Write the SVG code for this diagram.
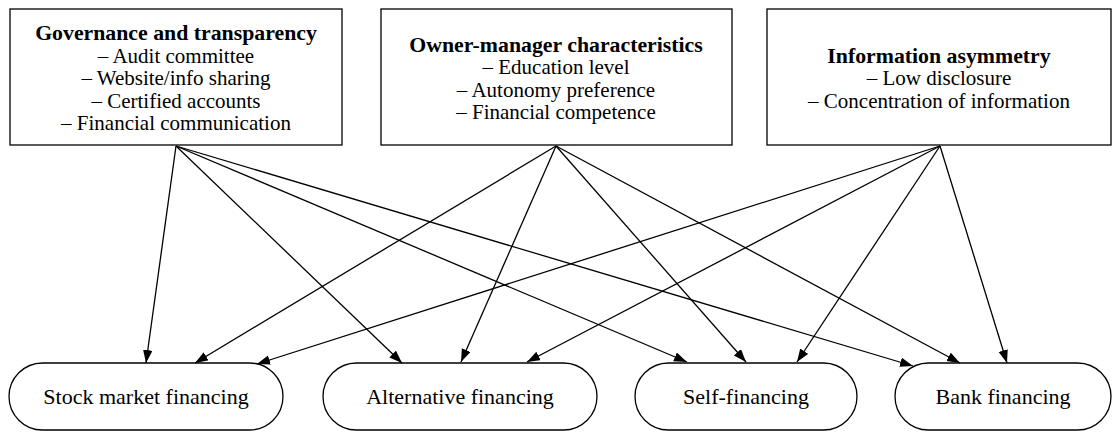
<svg xmlns="http://www.w3.org/2000/svg" width="1112" height="432" viewBox="0 0 1112 432">
  <style>
    .box { fill: #ffffff; stroke: #000000; stroke-width: 1.3; }
    .lbl { font-family: "Liberation Serif", "Times New Roman", serif; font-size: 21px; fill: #000000; text-anchor: middle; }
    .ttl { font-weight: bold; font-size: 21.8px; }
    .out { font-size: 22px; }
    .edge { stroke: #000000; stroke-width: 1.3; fill: none; marker-end: url(#arrow); }
  </style>
  <defs>
    <marker id="arrow" markerUnits="userSpaceOnUse" markerWidth="14" markerHeight="10" refX="13" refY="4.75" orient="auto">
      <path d="M0,0 L13,4.75 L0,9.5 Z" fill="#000000"/>
    </marker>
  </defs>
  <rect width="1112" height="432" fill="#ffffff"/>

  <!-- determinant boxes -->
  <g id="governance">
    <rect class="box" x="10" y="9" width="332" height="136"/>
    <text class="lbl ttl" x="176" y="40">Governance and transparency</text>
    <text class="lbl" x="176" y="62.5">– Audit committee</text>
    <text class="lbl" x="176" y="85">– Website/info sharing</text>
    <text class="lbl" x="176" y="107.5">– Certified accounts</text>
    <text class="lbl" x="176" y="130">– Financial communication</text>
  </g>
  <g id="owner_manager">
    <rect class="box" x="381" y="9" width="351" height="136"/>
    <text class="lbl ttl" x="556" y="51.5">Owner-manager characteristics</text>
    <text class="lbl" x="556" y="74">– Education level</text>
    <text class="lbl" x="556" y="96.5">– Autonomy preference</text>
    <text class="lbl" x="556" y="119">– Financial competence</text>
  </g>
  <g id="info_asymmetry">
    <rect class="box" x="767" y="9" width="344" height="136"/>
    <text class="lbl ttl" x="939" y="62.5">Information asymmetry</text>
    <text class="lbl" x="939" y="85">– Low disclosure</text>
    <text class="lbl" x="939" y="107.5">– Concentration of information</text>
  </g>

  <!-- financing outcomes -->
  <g id="stock_market">
    <rect class="box" x="9" y="363" width="274" height="67" rx="33.5" ry="33.5"/>
    <text class="lbl out" x="146" y="404">Stock market financing</text>
  </g>
  <g id="alternative">
    <rect class="box" x="323" y="363" width="274" height="67" rx="33.5" ry="33.5"/>
    <text class="lbl out" x="460" y="404">Alternative financing</text>
  </g>
  <g id="self_financing">
    <rect class="box" x="635" y="363" width="222" height="67" rx="33.5" ry="33.5"/>
    <text class="lbl out" x="746" y="404">Self-financing</text>
  </g>
  <g id="bank">
    <rect class="box" x="895" y="363" width="216" height="67" rx="33.5" ry="33.5"/>
    <text class="lbl out" x="1003" y="404">Bank financing</text>
  </g>

  <!-- connectors -->
  <g id="edges">
    <line class="edge" x1="176" y1="146" x2="146" y2="363"/>
    <line class="edge" x1="176" y1="146" x2="402" y2="363"/>
    <line class="edge" x1="176" y1="146" x2="687" y2="362"/>
    <line class="edge" x1="176" y1="146" x2="913" y2="366"/>

    <line class="edge" x1="556" y1="146" x2="195" y2="363"/>
    <line class="edge" x1="556" y1="146" x2="461" y2="362"/>
    <line class="edge" x1="556" y1="146" x2="746" y2="362"/>
    <line class="edge" x1="556" y1="146" x2="960" y2="363"/>

    <line class="edge" x1="940" y1="146" x2="257" y2="364"/>
    <line class="edge" x1="940" y1="146" x2="527" y2="362"/>
    <line class="edge" x1="940" y1="146" x2="797" y2="362"/>
    <line class="edge" x1="940" y1="146" x2="1007" y2="363"/>
  </g>
</svg>
